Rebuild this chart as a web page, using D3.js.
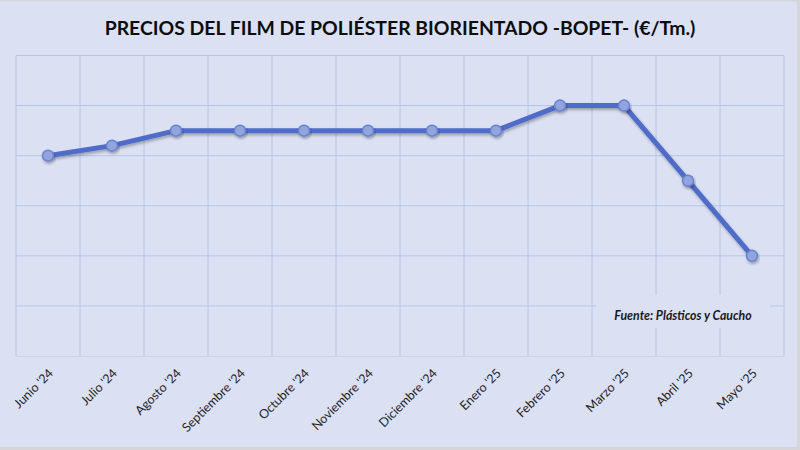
<!DOCTYPE html>
<html>
<head>
<meta charset="utf-8">
<script src="https://cdn.jsdelivr.net/npm/d3@7"></script>
<style>
  body { margin: 0; background: #d4d4d8; }
  svg { display: block; }
</style>
</head>
<body>
<div id="container"></div>
<script>
const months = ["Junio '24", "Julio '24", "Agosto '24", "Septiembre '24", "Octubre '24", "Noviembre '24",
  "Diciembre '24", "Enero '25", "Febrero '25", "Marzo '25", "Abril '25", "Mayo '25"];
const prices = [4, 4.2, 4.5, 4.5, 4.5, 4.5, 4.5, 4.5, 5, 5, 3.5, 2];
const yTicks = [0, 1, 2, 3, 4, 5, 6];

const w = 800; // canvas width
const h = 450; // canvas height
const pLeft = 16, pRight = 784, pTop = 55.5, pBottom = 356;

const svg = d3.select("#container").append("svg").attr("width", w).attr("height", h);

svg.append("rect").attr("x", 0).attr("y", 0).attr("width", w).attr("height", h).attr("fill", "#d6d6da");
svg.append("rect").attr("x", 0).attr("y", 1.5).attr("width", 797).attr("height", 445.5).attr("fill", "#dbe1f3");

const xScale = d3.scaleBand().domain(months).range([pLeft, pRight]);
const yScale = d3.scaleLinear().domain([0, 6]).range([pBottom, pTop]);

// grid
svg.append("g").selectAll("line").data(yTicks.slice(1)).enter().append("line")
  .attr("x1", pLeft).attr("x2", pRight)
  .attr("y1", d => yScale(d)).attr("y2", d => yScale(d))
  .attr("stroke", "#b4c6ea").attr("stroke-width", 1);

const bounds = months.map(m => xScale(m)).concat([pRight]);
svg.append("g").selectAll("line").data(bounds).enter().append("line")
  .attr("x1", d => d).attr("x2", d => d)
  .attr("y1", pTop).attr("y2", pBottom)
  .attr("stroke", "#b4c6ea").attr("stroke-width", 1);

// x axis
const xAxis = d3.axisBottom(xScale).tickSize(0).tickPadding(0);
const gx = svg.append("g").attr("transform", `translate(0, ${pBottom})`).call(xAxis);
gx.select(".domain").attr("stroke", "#d3d0dc").attr("stroke-width", 1.2);
gx.selectAll("text")
  .attr("font-family", "Lato, 'Open Sans', sans-serif").attr("font-size", 12.5).attr("fill", "#262626")
  .attr("text-anchor", "end")
  .attr("dy", 0)
  .attr("transform", "translate(6, 18) rotate(-45)");

// footnote box
svg.append("rect").attr("x", 596).attr("y", 295).attr("width", 174).attr("height", 33).attr("fill", "#dbe1f3");
svg.append("text").attr("x", 683).attr("y", 319.5)
  .attr("text-anchor", "middle")
  .attr("font-family", "Lato, sans-serif").attr("font-size", 12.3).attr("font-weight", "bold").attr("font-style", "italic")
  .attr("fill", "#1a1a1a")
  .text("Fuente: Plásticos y Caucho");

// shadow
const defs = svg.append("defs");
const f = defs.append("filter").attr("id", "shadow").attr("x", "-20%").attr("y", "-20%").attr("width", "140%").attr("height", "160%");
f.append("feDropShadow").attr("dx", 1).attr("dy", 2).attr("stdDeviation", 1.5).attr("flood-color", "#000").attr("flood-opacity", 0.3);

const cx = d => xScale(d) + xScale.bandwidth() / 2;
const line = d3.line().x((d, i) => cx(months[i])).y(d => yScale(d));

svg.append("path").datum(prices).attr("d", line)
  .attr("fill", "none").attr("stroke", "#4f6cc8").attr("stroke-width", 5)
  .attr("stroke-linejoin", "round").attr("filter", "url(#shadow)");

svg.append("g").selectAll("circle").data(prices).enter().append("circle")
  .attr("cx", (d, i) => cx(months[i])).attr("cy", d => yScale(d)).attr("r", 5.5)
  .attr("fill", "#91a4de").attr("stroke", "#6882d0").attr("stroke-width", 1.5)
  .attr("filter", "url(#shadow)");

// title
svg.append("text").attr("x", 400).attr("y", 35).attr("text-anchor", "middle")
  .attr("font-family", "Lato, sans-serif").attr("font-size", 19.4).attr("font-weight", "bold").attr("fill", "#0d0d0d")
  .text("PRECIOS DEL FILM DE POLIÉSTER BIORIENTADO -BOPET- (€/Tm.)");
</script>
</body>
</html>
